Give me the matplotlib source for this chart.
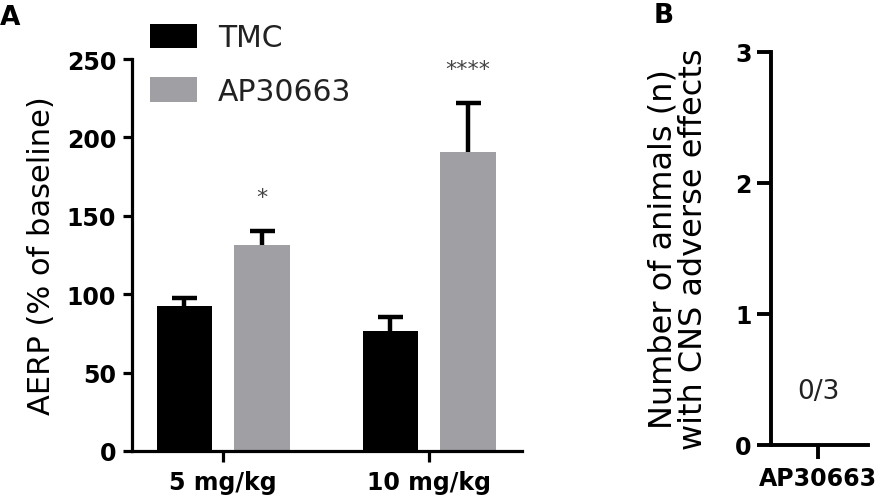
import matplotlib
matplotlib.use("Agg")
import matplotlib.pyplot as plt
import numpy as np

plt.rcParams['font.family'] = ['DejaVu Sans']

# ---- data ----
doses = ["5 mg/kg", "10 mg/kg"]
series = ["TMC", "AP30663"]
tmc_mean = [92.7, 76.7]
tmc_sem = [4.7, 9.0]
ap_mean = [131.6, 190.5]
ap_sem = [9.0, 31.5]
signif = ["*", "****"]
yticks_a = [0, 50, 100, 150, 200, 250]

b_groups = ["AP30663"]
b_counts = [0]
b_label = ["0/3"]
yticks_b = [0, 1, 2, 3]

colors = ["#000000", "#a0a0a4"]

W, H = 884, 502
fig = plt.figure(figsize=(W / 100, H / 100), dpi=100)

# ---- panel A ----
axA = fig.add_axes([132 / W, 1 - 452 / H, 390 / W, 392 / H])
x = np.arange(len(doses))
off = 0.188
bw = 0.27
err_kw = dict(fmt="none", ecolor="black", elinewidth=3.2, capsize=9, capthick=3.2, zorder=1)
bA = axA.bar(x - off, tmc_mean, bw, color=colors[0], label=series[0], zorder=2)
bB = axA.bar(x + off, ap_mean, bw, color=colors[1], label=series[1], zorder=2)
for xs, m, e in [(x - off, tmc_mean, tmc_sem), (x + off, ap_mean, ap_sem)]:
    eb = axA.errorbar(xs, m, yerr=[np.zeros(len(x)), e], **err_kw)
    caps = eb.lines[1]
    if len(caps) == 2:
        caps[0].remove()
for xi, m, e, s in zip(x + off, ap_mean, ap_sem, signif):
    axA.text(xi, m + e + 15, s, ha="center", va="bottom", fontsize=16, color="#444444")

axA.set_xlim(-0.442, 1.451)
axA.set_ylim(0, 250)
axA.set_yticks(yticks_a)
axA.set_xticks(x)
axA.set_xticklabels(doses, fontsize=17, fontweight="bold")
axA.set_yticklabels([str(v) for v in yticks_a], fontsize=17, fontweight="bold")
axA.set_ylabel("AERP (% of baseline)", fontsize=22)
for s in ["top", "right"]:
    axA.spines[s].set_visible(False)
for s in ["left", "bottom"]:
    axA.spines[s].set_linewidth(2.3)
axA.tick_params(axis="y", length=6.5, width=2.3, pad=5)
axA.tick_params(axis="x", length=8, width=2.3, pad=6)

fig.legend(handles=[bA, bB], labels=series, loc="upper left",
           bbox_to_anchor=(150 / W, 1 - 24 / H), frameon=False, fontsize=21.5,
           borderpad=0, borderaxespad=0, handlelength=1.57, handleheight=0.87,
           handletextpad=0.7, labelspacing=0.83, labelcolor="#222222")

fig.text(0 / W, 1 - 25 / H, "A", fontsize=19, fontweight="bold", va="baseline", ha="left")

# ---- panel B ----
axB = fig.add_axes([771 / W, 1 - 446 / H, 97 / W, 393.3 / H])
xb = np.arange(len(b_groups))
axB.bar(xb, b_counts, 0.5, color=colors[1])
for xi, c, lab in zip(xb, b_counts, b_label):
    axB.text(xi, c + 0.41, lab, ha="center", va="center", fontsize=19, color="#222222")
axB.set_xlim(-0.485, 0.515)
axB.set_ylim(0, 3)
axB.set_yticks(yticks_b)
axB.set_yticklabels([str(v) for v in yticks_b], fontsize=17, fontweight="bold")
axB.set_xticks(xb)
axB.set_xticklabels(b_groups, fontsize=17, fontweight="bold")
axB.set_ylabel("Number of animals (n)\nwith CNS adverse effects", fontsize=23, linespacing=1.0)
for s in ["top", "right"]:
    axB.spines[s].set_visible(False)
for s in ["left", "bottom"]:
    axB.spines[s].set_linewidth(2.8)
axB.tick_params(axis="y", length=10, width=2.8, pad=4)
axB.tick_params(axis="x", length=10, width=2.8, pad=5)

fig.text(654 / W, 1 - 23 / H, "B", fontsize=19, fontweight="bold", va="baseline", ha="left")

# place y labels at measured positions (right edge of rotated text)
axA.yaxis.set_label_coords((56 - 132) / 390, 0.5)
axB.yaxis.set_label_coords((709 - 771) / 97, 0.5)

fig.savefig("out.png", dpi=100)
